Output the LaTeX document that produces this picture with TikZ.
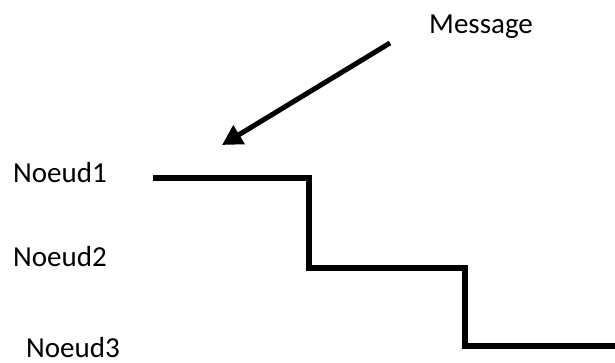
\documentclass[tikz,border=0pt]{standalone}
\usepackage{fontspec}
\setmainfont{Carlito}
\usepackage{tikz}
\usetikzlibrary{arrows.meta}

\tikzset{
  nodetext/.style={inner sep=0pt,anchor=base west,font=\fontsize{29}{34}\selectfont},
  stair/.style={line width=5.5pt,line join=miter},
  msgarrow/.style={line width=5pt,-{Triangle[length=20pt,width=21pt]}}
}

\begin{document}
\begin{tikzpicture}[x=1pt,y=-1pt] % begins the tikz environment
    \useasboundingbox (0,0) rectangle (615,363);
    \node (M) at (429,34) [nodetext] {Message};
    \node (N1) at (13,183) [nodetext] {Noeud1};
    \node (N2) at (13,266) [nodetext] {Noeud2};
    \node (N3) at (26,357) [nodetext] {Noeud3};
    \coordinate (T) at (390,43);
    \coordinate (H) at (222,145);
    \coordinate (A) at (153,178);
    \coordinate (B) at (309,178);
    \coordinate (C) at (309,268);
    \coordinate (D) at (465,268);
    \coordinate (E) at (465,346);
    \coordinate (F) at (615,346);
    \draw [msgarrow] (T) -- (H);
    \draw [stair] (A) -- (B) -- (C) -- (D) -- (E) -- (F);
  \end{tikzpicture}
\end{document}
